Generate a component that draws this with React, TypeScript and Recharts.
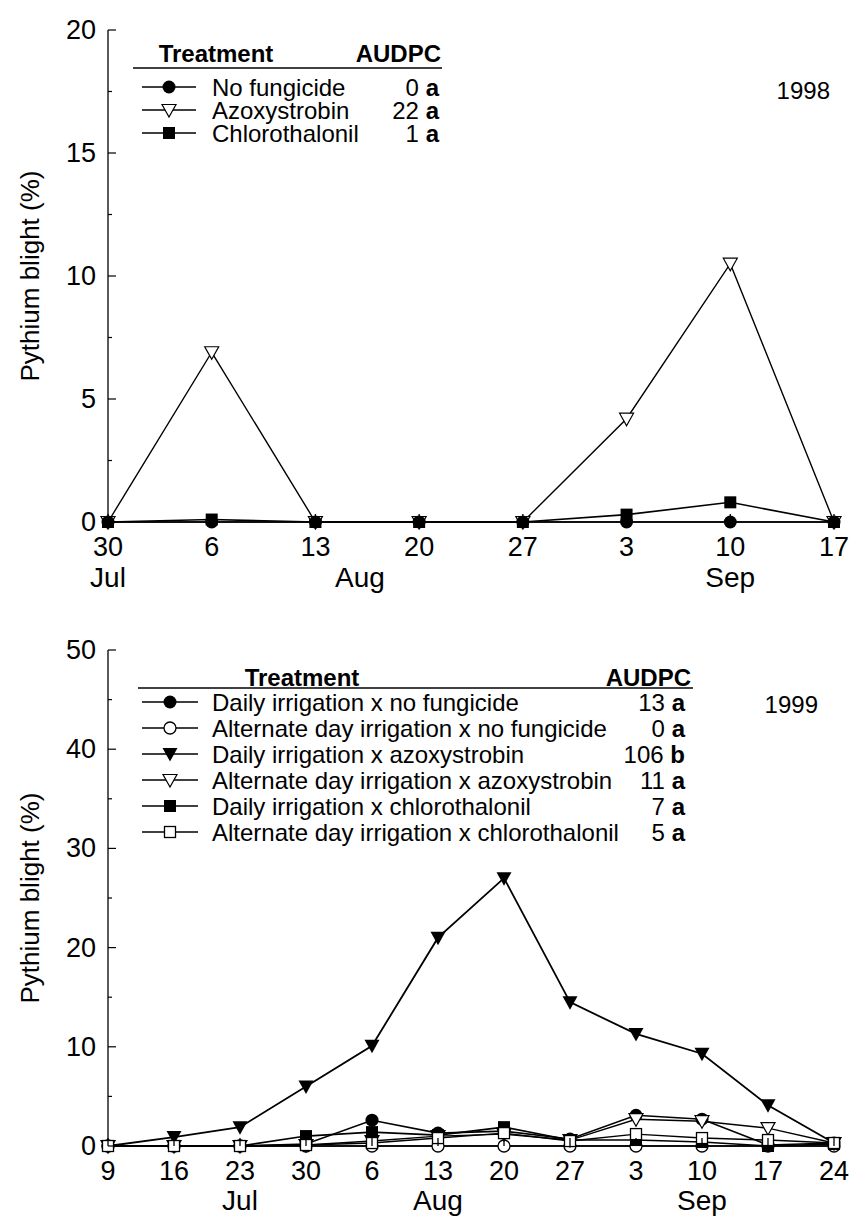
import React from 'react';
import { LineChart, Line, XAxis, YAxis } from 'recharts';

const FONT = '"Liberation Sans", Arial, Helvetica, sans-serif';
const INK = '#000';

// ---------- 1998 panel ----------
const days1998 = [0, 7, 14, 21, 28, 35, 42, 49];
const tickLabels1998 = ['30', '6', '13', '20', '27', '3', '10', '17'];
const monthDays1998 = [0, 17, 42];
const monthLabels1998 = ['Jul', 'Aug', 'Sep'];
const noFungicide1998 = [0, 0, 0, 0, 0, 0, 0, 0];
const azoxystrobin1998 = [0, 6.9, 0, 0, 0, 4.2, 10.5, 0];
const chlorothalonil1998 = [0, 0.1, 0, 0, 0, 0.3, 0.8, 0];
const yTicks1998 = [0, 5, 10, 15, 20];
const yMinor1998 = [2.5, 7.5, 12.5, 17.5];
const legendNames1998 = ['No fungicide', 'Azoxystrobin', 'Chlorothalonil'];
const legendShapes1998 = ['circle', 'triOpen', 'square'];
const audpc1998 = ['0', '22', '1'];
const letters1998 = ['a', 'a', 'a'];

// ---------- 1999 panel ----------
const days1999 = [0, 7, 14, 21, 28, 35, 42, 49, 56, 63, 70, 77];
const tickLabels1999 = ['9', '16', '23', '30', '6', '13', '20', '27', '3', '10', '17', '24'];
const monthDays1999 = [14, 35, 63];
const monthLabels1999 = ['Jul', 'Aug', 'Sep'];
const dailyNone1999 = [0, 0, 0, 0.2, 2.6, 1.3, 1.5, 0.7, 3.1, 2.7, 0.1, 0.3];
const altNone1999 = [0, 0, 0, 0, 0, 0, 0, 0, 0, 0, 0, 0];
const dailyAzoxy1999 = [0, 0.9, 1.9, 6.0, 10.1, 21.0, 27.0, 14.5, 11.3, 9.3, 4.1, 0.3];
const altAzoxy1999 = [0, 0, 0, 0.1, 0.5, 1.0, 1.2, 0.6, 2.7, 2.5, 1.8, 0.3];
const dailyChloro1999 = [0, 0, 0, 1.0, 1.4, 1.1, 1.9, 0.6, 0.6, 0.4, 0, 0.2];
const altChloro1999 = [0, 0, 0, 0.1, 0.3, 0.8, 1.3, 0.5, 1.2, 0.8, 0.6, 0.3];
const yTicks1999 = [0, 10, 20, 30, 40, 50];
const yMinor1999 = [5, 15, 25, 35, 45];
const legendNames1999 = [
  'Daily irrigation x no fungicide',
  'Alternate day irrigation x no fungicide',
  'Daily irrigation x azoxystrobin',
  'Alternate day irrigation x azoxystrobin',
  'Daily irrigation x chlorothalonil',
  'Alternate day irrigation x chlorothalonil',
];
const legendShapes1999 = ['circle', 'circleOpen', 'tri', 'triOpen', 'square', 'squareOpen'];
const audpc1999 = ['13', '0', '106', '11', '7', '5'];
const letters1999 = ['a', 'a', 'b', 'a', 'a', 'a'];

const data1998 = days1998.map((d, i) => ({
  day: d,
  none: noFungicide1998[i],
  azoxy: azoxystrobin1998[i],
  chloro: chlorothalonil1998[i],
}));

const data1999 = days1999.map((d, i) => ({
  day: d,
  dNone: dailyNone1999[i],
  aNone: altNone1999[i],
  dAzoxy: dailyAzoxy1999[i],
  aAzoxy: altAzoxy1999[i],
  dChloro: dailyChloro1999[i],
  aChloro: altChloro1999[i],
}));

const TICK_FONT = 27;
const MONTH_FONT = 28;

const Marker = ({ shape, cx, cy }: any) => {
  switch (shape) {
    case 'circle':
      return <circle cx={cx} cy={cy} r={6.5} fill={INK} />;
    case 'circleOpen':
      return <circle cx={cx} cy={cy} r={6} fill="#fff" stroke={INK} strokeWidth={1.3} />;
    case 'tri':
      return <polygon points={`${cx - 7.5},${cy - 6} ${cx + 7.5},${cy - 6} ${cx},${cy + 7.5}`} fill={INK} />;
    case 'triOpen':
      return (
        <polygon
          points={`${cx - 7},${cy - 5.5} ${cx + 7},${cy - 5.5} ${cx},${cy + 7}`}
          fill="#fff"
          stroke={INK}
          strokeWidth={1.2}
        />
      );
    case 'square':
      return <rect x={cx - 6} y={cy - 6} width={12} height={12} fill={INK} />;
    case 'squareOpen':
    default:
      return <rect x={cx - 5.5} y={cy - 5.5} width={11} height={11} fill="#fff" stroke={INK} strokeWidth={1.3} />;
  }
};

const makeDot = (shape: string) => (p: any) => (
  <Marker key={`${shape}-${p.index}`} shape={shape} cx={p.cx} cy={p.cy} />
);

const BottomTick = (props: any) => {
  const { x, y, payload, labels, days, gap } = props;
  const i = days.indexOf(payload.value);
  const axisY = y - gap;
  return (
    <g>
      <line x1={x} x2={x} y1={axisY} y2={axisY - 8} stroke={INK} strokeWidth={1.3} />
      <text x={x} y={y} dy="0.72em" textAnchor="middle" fontSize={TICK_FONT} fontFamily={FONT} fill={INK}>
        {labels[i]}
      </text>
    </g>
  );
};

const MonthTick = (props: any) => {
  const { x, y, payload, labels, days } = props;
  const i = days.indexOf(payload.value);
  return (
    <text x={x} y={y} dy="0.72em" textAnchor="middle" fontSize={MONTH_FONT} fontFamily={FONT} fill={INK}>
      {labels[i]}
    </text>
  );
};

const TopTick = (props: any) => {
  const { x, y } = props;
  return <line x1={x} x2={x} y1={y} y2={y + 8} stroke={INK} strokeWidth={1.3} />;
};

const LeftTick = (props: any) => {
  const { x, y, payload, majors, gap } = props;
  const v = payload.value;
  const major = majors.includes(v);
  const axisX = x + gap;
  return (
    <g>
      <line x1={axisX} x2={axisX + (major ? 8 : 4)} y1={y} y2={y} stroke={INK} strokeWidth={1.2} />
      {major && (
        <text x={x} y={y} textAnchor="end" dominantBaseline="central" fontSize={TICK_FONT} fontFamily={FONT} fill={INK}>
          {v}
        </text>
      )}
    </g>
  );
};

const RightTick = (props: any) => {
  const { x, y, payload, majors } = props;
  const major = majors.includes(payload.value);
  return <line x1={x} x2={x - (major ? 8 : 4)} y1={y} y2={y} stroke={INK} strokeWidth={1.2} />;
};

const axisLineStyle = { stroke: INK, strokeWidth: 1.3 };

const Legend = ({ names, shapes, values, letters, headerX, valueX, audpcX, lineX1, lineX2, headerY, ruleY, rowY0, rowStep, markX1, markX2, textX }: any) => (
  <g fontFamily={FONT} fill={INK}>
    <text x={headerX} y={headerY} textAnchor="middle" dominantBaseline="central" fontSize={24} fontWeight="bold">
      Treatment
    </text>
    <text x={audpcX} y={headerY} textAnchor="end" dominantBaseline="central" fontSize={24} fontWeight="bold">
      AUDPC
    </text>
    <line x1={lineX1} x2={lineX2} y1={ruleY} y2={ruleY} stroke={INK} strokeWidth={1.5} />
    {names.map((n: string, i: number) => {
      const y = rowY0 + i * rowStep;
      return (
        <g key={n}>
          <line x1={markX1} x2={markX2} y1={y} y2={y} stroke={INK} strokeWidth={1.5} />
          <Marker shape={shapes[i]} cx={(markX1 + markX2) / 2} cy={y} />
          <text x={textX} y={y} dominantBaseline="central" fontSize={24}>
            {n}
          </text>
          <text x={valueX} y={y} textAnchor="end" dominantBaseline="central" fontSize={24}>
            <tspan>{values[i]} </tspan>
            <tspan fontWeight="bold">{letters[i]}</tspan>
          </text>
        </g>
      );
    })}
  </g>
);

const Panel1998 = () => (
  <div style={{ position: 'absolute', left: 0, top: 0, width: 849, height: 600 }}>
    <LineChart width={849} height={600} data={data1998} margin={{ top: 30, right: 15, bottom: 8, left: 8 }}>
      <XAxis
        dataKey="day"
        type="number"
        domain={[0, 49]}
        ticks={days1998}
        interval={0}
        height={40}
        tickSize={0}
        tickMargin={15}
        tickLine={false}
        axisLine={axisLineStyle}
        tick={<BottomTick labels={tickLabels1998} days={days1998} gap={15} />}
      />
      <XAxis
        xAxisId="month"
        dataKey="day"
        type="number"
        domain={[0, 49]}
        ticks={monthDays1998}
        interval={0}
        height={30}
        tickSize={0}
        tickMargin={5}
        tickLine={false}
        axisLine={false}
        tick={<MonthTick labels={monthLabels1998} days={monthDays1998} />}
      />
      <XAxis
        xAxisId="top"
        orientation="top"
        dataKey="day"
        type="number"
        domain={[0, 49]}
        ticks={days1998}
        interval={0}
        height={0}
        tickSize={0}
        tickMargin={0}
        tickLine={false}
        axisLine={axisLineStyle}
        tick={<TopTick />}
      />
      <YAxis
        type="number"
        domain={[0, 20]}
        ticks={[...yTicks1998, ...yMinor1998].sort((a, b) => a - b)}
        interval={0}
        width={100}
        tickSize={0}
        tickMargin={12}
        tickLine={false}
        axisLine={axisLineStyle}
        tick={<LeftTick majors={yTicks1998} gap={12} />}
      />
      <YAxis
        yAxisId="right"
        orientation="right"
        type="number"
        domain={[0, 20]}
        ticks={[...yTicks1998, ...yMinor1998].sort((a, b) => a - b)}
        interval={0}
        width={0}
        tickSize={0}
        tickMargin={0}
        tickLine={false}
        axisLine={axisLineStyle}
        tick={<RightTick majors={yTicks1998} />}
      />
      <Line type="linear" dataKey="chloro" stroke={INK} strokeWidth={1.6} dot={makeDot('square')} activeDot={false} isAnimationActive={false} />
      <Line type="linear" dataKey="azoxy" stroke={INK} strokeWidth={1.4} dot={makeDot('triOpen')} activeDot={false} isAnimationActive={false} />
      <Line type="linear" dataKey="none" stroke={INK} strokeWidth={1.6} dot={makeDot('circle')} activeDot={false} isAnimationActive={false} />
    </LineChart>
    <svg width={849} height={600} style={{ position: 'absolute', left: 0, top: 0, pointerEvents: 'none' }}>
      <text transform="translate(30,276) rotate(-90)" textAnchor="middle" dominantBaseline="central" fontSize={26} fontFamily={FONT} fill={INK}>
        Pythium blight (%)
      </text>
      <text x={830} y={90} textAnchor="end" dominantBaseline="central" fontSize={24} fontFamily={FONT} fill={INK}>
        1998
      </text>
      <Legend
        names={legendNames1998}
        shapes={legendShapes1998}
        values={audpc1998}
        letters={letters1998}
        headerX={216}
        valueX={439}
        audpcX={441}
        lineX1={133}
        lineX2={442}
        headerY={53}
        ruleY={68}
        rowY0={87}
        rowStep={23}
        markX1={142}
        markX2={196}
        textX={212}
      />
    </svg>
  </div>
);

const Panel1999 = () => (
  <div style={{ position: 'absolute', left: 0, top: 620, width: 849, height: 598 }}>
    <LineChart width={849} height={598} data={data1999} margin={{ top: 30, right: 15, bottom: 2, left: 8 }}>
      <XAxis
        dataKey="day"
        type="number"
        domain={[0, 77]}
        ticks={days1999}
        interval={0}
        height={40}
        tickSize={0}
        tickMargin={15}
        tickLine={false}
        axisLine={axisLineStyle}
        tick={<BottomTick labels={tickLabels1999} days={days1999} gap={15} />}
      />
      <XAxis
        xAxisId="month"
        dataKey="day"
        type="number"
        domain={[0, 77]}
        ticks={monthDays1999}
        interval={0}
        height={30}
        tickSize={0}
        tickMargin={4}
        tickLine={false}
        axisLine={false}
        tick={<MonthTick labels={monthLabels1999} days={monthDays1999} />}
      />
      <XAxis
        xAxisId="top"
        orientation="top"
        dataKey="day"
        type="number"
        domain={[0, 77]}
        ticks={days1999}
        interval={0}
        height={0}
        tickSize={0}
        tickMargin={0}
        tickLine={false}
        axisLine={axisLineStyle}
        tick={<TopTick />}
      />
      <YAxis
        type="number"
        domain={[0, 50]}
        ticks={[...yTicks1999, ...yMinor1999].sort((a, b) => a - b)}
        interval={0}
        width={100}
        tickSize={0}
        tickMargin={12}
        tickLine={false}
        axisLine={axisLineStyle}
        tick={<LeftTick majors={yTicks1999} gap={12} />}
      />
      <YAxis
        yAxisId="right"
        orientation="right"
        type="number"
        domain={[0, 50]}
        ticks={[...yTicks1999, ...yMinor1999].sort((a, b) => a - b)}
        interval={0}
        width={0}
        tickSize={0}
        tickMargin={0}
        tickLine={false}
        axisLine={axisLineStyle}
        tick={<RightTick majors={yTicks1999} />}
      />
      <Line type="linear" dataKey="dNone" stroke={INK} strokeWidth={1.6} dot={makeDot('circle')} activeDot={false} isAnimationActive={false} />
      <Line type="linear" dataKey="aNone" stroke={INK} strokeWidth={1.4} dot={makeDot('circleOpen')} activeDot={false} isAnimationActive={false} />
      <Line type="linear" dataKey="dAzoxy" stroke={INK} strokeWidth={1.8} dot={makeDot('tri')} activeDot={false} isAnimationActive={false} />
      <Line type="linear" dataKey="aAzoxy" stroke={INK} strokeWidth={1.4} dot={makeDot('triOpen')} activeDot={false} isAnimationActive={false} />
      <Line type="linear" dataKey="dChloro" stroke={INK} strokeWidth={1.6} dot={makeDot('square')} activeDot={false} isAnimationActive={false} />
      <Line type="linear" dataKey="aChloro" stroke={INK} strokeWidth={1.4} dot={makeDot('squareOpen')} activeDot={false} isAnimationActive={false} />
    </LineChart>
    <svg width={849} height={598} style={{ position: 'absolute', left: 0, top: 0, pointerEvents: 'none' }}>
      <text transform="translate(30,278) rotate(-90)" textAnchor="middle" dominantBaseline="central" fontSize={26} fontFamily={FONT} fill={INK}>
        Pythium blight (%)
      </text>
      <text x={818} y={84} textAnchor="end" dominantBaseline="central" fontSize={24} fontFamily={FONT} fill={INK}>
        1999
      </text>
      <Legend
        names={legendNames1999}
        shapes={legendShapes1999}
        values={audpc1999}
        letters={letters1999}
        headerX={302}
        valueX={685}
        audpcX={691}
        lineX1={138}
        lineX2={693}
        headerY={57}
        ruleY={68}
        rowY0={82}
        rowStep={26}
        markX1={142}
        markX2={198}
        textX={212}
      />
    </svg>
  </div>
);

export default function App() {
  return (
    <div style={{ position: 'absolute', left: 0, top: 0, width: 849, height: 1218, background: '#fff', fontFamily: FONT }}>
      <Panel1998 />
      <Panel1999 />
    </div>
  );
}
